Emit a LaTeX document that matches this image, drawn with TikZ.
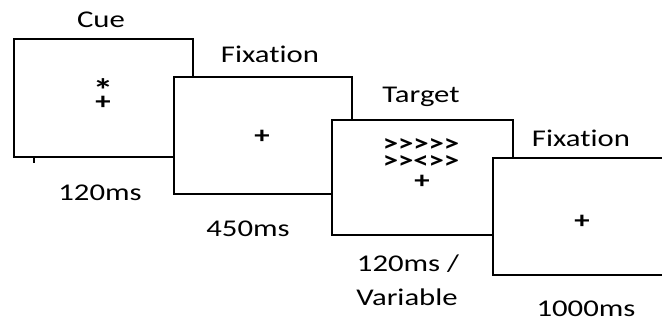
\documentclass[tikz,border=0pt]{standalone}
\usepackage{fontspec}
\setmainfont{Carlito}[FakeStretch=1.28, Ligatures={TeXOff,NoCommon}]
\begin{document}
\begin{tikzpicture}[x=1pt,y=-1pt,
  screen/.style={draw, line width=2.8pt, fill=white, inner sep=0pt},
  lbl/.style={font=\fontsize{24}{28}\selectfont, inner sep=0pt, anchor=base},
  sym/.style={font=\fontsize{24}{28}\selectfont\bfseries, inner sep=0pt}]
\useasboundingbox (0,0) rectangle (662,323);
\clip (0,0) rectangle (662,323);
% screens, back to front
\node[screen, minimum width=179pt, minimum height=118pt] (s1) at (103.5,98) {};
\draw[line width=2.4pt] (34,157) -- (34,163);
\node[screen, minimum width=178pt, minimum height=117pt] (s2) at (263,135.5) {};
\node[screen, minimum width=181pt, minimum height=115pt] (s3) at (422.5,177.5) {};
\node[screen, minimum width=181pt, minimum height=117pt] (s4) at (583.5,216.5) {};
% titles
\node[lbl] (t1) at (101,28) {Cue};
\node[lbl] (t2) at (270,63) {Fixation};
\node[lbl] (t3) at (421,103) {Target};
\node[lbl] (t4) at (581,147) {Fixation};
% durations
\node[lbl] (d1) at (100,201) {120ms};
\node[lbl] (d2) at (248,237) {450ms};
\node[lbl] (d3a) at (408,272) {120ms /};
\node[lbl] (d3b) at (407,306) {Variable};
\node[lbl] (d4) at (586,317) {1000ms};
% contents
\node[sym, anchor=base, font=\fontsize{32}{34}\selectfont\bfseries] (c1a) at (103,102) {*};
\node[sym] (c1b) at (103,103) {+};
\node[sym] (c2) at (262,137) {+};
\node[sym] (c3a) at (421,145) {>>>>>};
\node[sym] (c3b) at (421,162) {>><>>};
\node[sym] (c3c) at (422,182) {+};
\node[sym] (c4) at (582,222) {+};
\end{tikzpicture}
\end{document}
